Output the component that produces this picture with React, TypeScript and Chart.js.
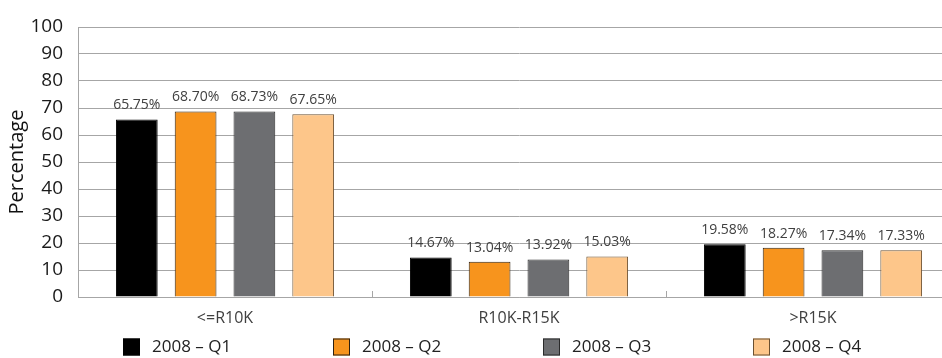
import React, { useEffect, useRef } from "react";
import { Chart, registerables } from "chart.js";

Chart.register(...registerables);

const categories = ["<=R10K", "R10K-R15K", ">R15K"];
const seriesLabels = ["2008 – Q1", "2008 – Q2", "2008 – Q3", "2008 – Q4"];
const q1Values = [65.75, 14.67, 19.58];
const q2Values = [68.7, 13.04, 18.27];
const q3Values = [68.73, 13.92, 17.34];
const q4Values = [67.65, 15.03, 17.33];
const yTicks = [0, 10, 20, 30, 40, 50, 60, 70, 80, 90, 100];

const fills = ["#000000", "#F7941D", "#6D6E71", "#FDC68A"];
const borders = ["#000000", "#2e2010", "#2a2a2a", "#6b5030"];

const FONT = "'Open Sans', 'Noto Sans', sans-serif";

const valueLabels = {
  id: "valueLabels",
  afterDatasetsDraw(chart: any) {
    const ctx = chart.ctx;
    ctx.save();
    ctx.font = `14px ${FONT}`;
    ctx.fillStyle = "#404040";
    ctx.textAlign = "center";
    ctx.textBaseline = "bottom";
    chart.data.datasets.forEach((ds: any, di: number) => {
      const meta = chart.getDatasetMeta(di);
      meta.data.forEach((el: any, i: number) => {
        ctx.fillText(`${ds.data[i].toFixed(2)}%`, el.x, el.y - 7);
      });
    });
    ctx.restore();
  },
};

const categoryTicks = {
  id: "categoryTicks",
  afterDraw(chart: any) {
    const ctx = chart.ctx;
    const x = chart.scales.x;
    const bottom = chart.chartArea.bottom;
    ctx.save();
    ctx.strokeStyle = "#a6a6a6";
    ctx.lineWidth = 1;
    for (let i = 1; i < categories.length; i++) {
      const px = Math.round((x.getPixelForTick(i - 1) + x.getPixelForTick(i)) / 2) + 0.5;
      ctx.beginPath();
      ctx.moveTo(px, bottom - 6);
      ctx.lineTo(px, bottom);
      ctx.stroke();
    }
    ctx.restore();
  },
};

const spacedLegend = {
  id: "spacedLegend",
  afterDraw(chart: any) {
    const ctx = chart.ctx;
    const startX = 123;
    const step = 210;
    const cy = 347;
    ctx.save();
    ctx.font = `17px ${FONT}`;
    ctx.textBaseline = "middle";
    ctx.textAlign = "left";
    chart.data.datasets.forEach((ds: any, i: number) => {
      const bx = startX + i * step;
      ctx.fillStyle = ds.backgroundColor;
      ctx.fillRect(bx, cy - 8.5, 17, 17);
      ctx.strokeStyle = ds.borderColor;
      ctx.lineWidth = 1;
      ctx.strokeRect(bx + 0.5, cy - 8, 16, 16);
      ctx.fillStyle = "#222222";
      ctx.fillText(ds.label, bx + 29, cy);
    });
    ctx.restore();
  },
};

export default function App() {
  const ref = useRef<HTMLCanvasElement | null>(null);

  useEffect(() => {
    document.body.style.overflow = "hidden";
    const values = [q1Values, q2Values, q3Values, q4Values];
    const chart = new Chart(ref.current as HTMLCanvasElement, {
      type: "bar",
      data: {
        labels: categories,
        datasets: seriesLabels.map((label, i) => ({
          label,
          data: values[i],
          backgroundColor: fills[i],
          borderColor: borders[i],
          borderWidth: 1,
          categoryPercentage: 0.8,
          barPercentage: 0.71,
        })),
      },
      options: {
        responsive: false,
        animation: false,
        layout: { padding: { top: 27, right: 0, left: 0, bottom: 0 } },
        plugins: {
          legend: { display: false },
          tooltip: { enabled: false },
        },
        scales: {
          x: {
            grid: { display: false },
            border: { display: true, color: "#a6a6a6", width: 1 },
            ticks: {
              color: "#404040",
              font: { family: FONT, size: 16 },
              padding: 4,
            },
            afterFit(scale: any) {
              scale.height = 61;
            },
          },
          y: {
            min: 0,
            max: 100,
            afterBuildTicks(scale: any) {
              scale.ticks = yTicks.map((v) => ({ value: v }));
            },
            grid: { color: "#a6a6a6", lineWidth: 1, drawTicks: false },
            border: { display: true, color: "#a6a6a6", width: 1 },
            ticks: {
              color: "#1a1a1a",
              font: { family: FONT, size: 19 },
              padding: 15,
            },
            title: {
              display: true,
              text: "Percentage",
              color: "#111111",
              font: { family: FONT, size: 20 },
              padding: { top: 5, bottom: 0 },
            },
            afterFit(scale: any) {
              scale.width = 78;
            },
          },
        },
      },
      plugins: [valueLabels, categoryTicks, spacedLegend],
    });
    return () => chart.destroy();
  }, []);

  return (
    <div style={{ position: "fixed", left: 0, top: 0, width: 960, height: 358, background: "#fff" }}>
      <canvas ref={ref} width={960} height={358} />
    </div>
  );
}
